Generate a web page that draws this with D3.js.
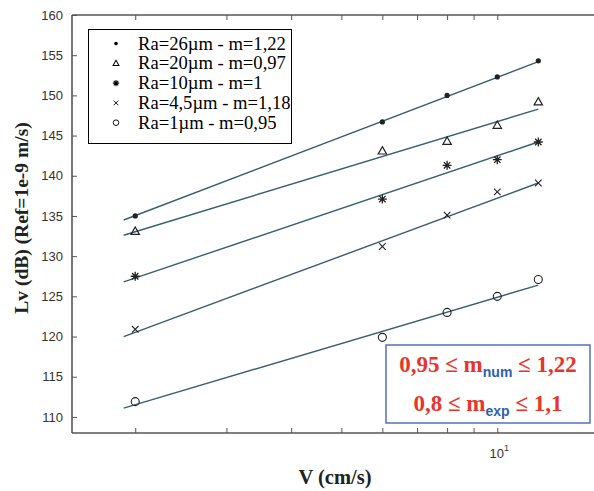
<!DOCTYPE html>
<html><head><meta charset="utf-8">
<script src="https://cdn.jsdelivr.net/npm/d3@7"></script>
<style>body{margin:0;background:#fff}svg{display:block}
.serif{font-family:"Liberation Serif","DejaVu Serif",serif}
.sans{font-family:"Liberation Sans",Arial,sans-serif}
</style>
</head><body>
<svg id="c" width="594" height="491"></svg>
<script>
const velocities = [2, 6, 8, 10, 12];
const seriesNames = ["Ra=26\u00b5m - m=1,22","Ra=20\u00b5m - m=0,97","Ra=10\u00b5m - m=1","Ra=4,5\u00b5m - m=1,18","Ra=1\u00b5m - m=0,95"];
const seriesMarkers = ["dot","triangle","star","cross","circle"];
const lv26 = [135, 146.7, 150, 152.3, 154.3];
const lv20 = [133.1, 143.1, 144.3, 146.3, 149.2];
const lv10 = [127.5, 137.1, 141.3, 142.0, 144.2];
const lv45 = [120.9, 131.2, 135.1, 138.0, 139.1];
const lv1  = [111.9, 119.9, 123.0, 125.0, 127.1];
const fitV = [1.9, 12];
const fit26 = [134.5, 154.2];
const fit20 = [132.6, 148.3];
const fit10 = [126.8, 144.2];
const fit45 = [120.0, 139.1];
const fit1  = [111.1, 126.4];
const yTicks = [110,115,120,125,130,135,140,145,150,155,160];
const xTicks = [2,3,4,5,6,7,8,9,10];

const seriesVals = [lv26, lv20, lv10, lv45, lv1];
const seriesFits = [fit26, fit20, fit10, fit45, fit1];

const svg = d3.select("#c");
const L = 72, T = 15, B = 433;
const pxPerDecade = 518;
const xMin = 1.51, xMax = 16;
const x = d3.scaleLog().domain([xMin, xMax]).range([L, L + pxPerDecade*Math.log10(xMax/xMin)]);
const y = d3.scaleLinear().domain([108, 160]).range([B, T]);
const R = x.range()[1];

const axisCol = "#555";
svg.append("line").attr("x1",L).attr("x2",R).attr("y1",B).attr("y2",B).attr("stroke",axisCol).attr("stroke-width",1.6);
svg.append("line").attr("x1",L).attr("x2",R).attr("y1",T).attr("y2",T).attr("stroke",axisCol).attr("stroke-width",1.6);
svg.append("line").attr("x1",L).attr("x2",L).attr("y1",T).attr("y2",B).attr("stroke",axisCol).attr("stroke-width",1.6);

const yAxis = d3.axisLeft(y).tickValues(yTicks).tickSizeInner(-5).tickSizeOuter(0).tickPadding(9);
const gy = svg.append("g").attr("transform",`translate(${L},0)`).call(yAxis);
gy.select(".domain").remove();
gy.selectAll("line").attr("stroke",axisCol);
gy.selectAll("text").attr("class","sans").attr("font-family",null).attr("font-size",13).attr("fill","#333");

const xb = d3.axisBottom(x).tickValues(xTicks).tickSizeInner(-5).tickSizeOuter(0).tickFormat("");
const gxb = svg.append("g").attr("transform",`translate(0,${B})`).call(xb);
gxb.select(".domain").remove();
gxb.selectAll("line").attr("stroke",axisCol);
const xt = d3.axisTop(x).tickValues(xTicks).tickSizeInner(-5).tickSizeOuter(0).tickFormat("");
const gxt = svg.append("g").attr("transform",`translate(0,${T})`).call(xt);
gxt.select(".domain").remove();
gxt.selectAll("line").attr("stroke",axisCol);

const lab = svg.append("text").attr("class","sans").attr("x", x(10)+2).attr("y", B + 25).attr("text-anchor","middle")
  .attr("font-size",13).attr("fill","#333");
lab.append("tspan").text("10");
lab.append("tspan").attr("dy",-7).attr("font-size",9).text("1");

svg.append("text").attr("class","serif").attr("x", 335).attr("y", 484).attr("text-anchor","middle")
  .attr("font-weight","bold").attr("font-size",20.5).attr("fill","#222").text("V (cm/s)");
svg.append("text").attr("class","serif").attr("transform","translate(28,218) rotate(-90)").attr("text-anchor","middle")
  .attr("font-weight","bold").attr("font-size",19.5).attr("fill","#222").text("Lv (dB) (Ref=1e-9 m/s)");

const lineCol = "#35606c";
const line = d3.line().x(d=>x(d[0])).y(d=>y(d[1]));
seriesFits.forEach(f=>{
  svg.append("path").attr("d", line(fitV.map((v,i)=>[v,f[i]]))).attr("fill","none")
    .attr("stroke",lineCol).attr("stroke-width",1.4);
});

function drawMarker(g, type, cx, cy, col, k){
  k = k || 1;
  if(type==="dot"){ g.append("circle").attr("cx",cx).attr("cy",cy).attr("r",2.6*k).attr("fill",col); }
  else if(type==="triangle"){
    const s=4.2*k;
    g.append("path").attr("d",`M${cx},${cy-s}L${cx+s},${cy+s*0.75}L${cx-s},${cy+s*0.75}Z`).attr("fill","none").attr("stroke",col).attr("stroke-width",1.2*Math.sqrt(k));
  } else if(type==="star"){
    const s=4.5*k, d=3.2*k;
    g.append("path").attr("d",`M${cx-s},${cy}H${cx+s}M${cx},${cy-s}V${cy+s}M${cx-d},${cy-d}L${cx+d},${cy+d}M${cx-d},${cy+d}L${cx+d},${cy-d}`).attr("stroke",col).attr("stroke-width",1.3*Math.sqrt(k));
  } else if(type==="cross"){
    const s=3.3*k;
    g.append("path").attr("d",`M${cx-s},${cy-s}L${cx+s},${cy+s}M${cx-s},${cy+s}L${cx+s},${cy-s}`).attr("stroke",col).attr("stroke-width",1.1*Math.sqrt(k));
  } else if(type==="circle"){
    g.append("circle").attr("cx",cx).attr("cy",cy).attr("r",4*k).attr("fill","none").attr("stroke",col).attr("stroke-width",1.1*Math.sqrt(k));
  }
}
const mg = svg.append("g");
seriesVals.forEach((vals,si)=>{
  vals.forEach((v,i)=> drawMarker(mg, seriesMarkers[si], x(velocities[i]), y(v), "#222", 1));
});

const lg = svg.append("g");
lg.append("rect").attr("x",88.5).attr("y",29.5).attr("width",203).attr("height",114).attr("fill","#fff").attr("stroke","#000").attr("stroke-width",1);
seriesNames.forEach((n,i)=>{
  const cy = 43.5 + i*19.8;
  drawMarker(lg, seriesMarkers[i], 116, cy, "#000", 0.7);
  lg.append("text").attr("class","serif").attr("x",138).attr("y",cy+6)
    .attr("font-size",18.6).attr("fill","#000").text(n);
});

const ag = svg.append("g");
ag.append("rect").attr("x",386).attr("y",345).attr("width",204).attr("height",78).attr("fill","#fff").attr("stroke","#3a5aa8").attr("stroke-width",1.3);
const red = "#e8352b", blue = "#2e5fb0";
function annot(yb, a, sub, b){
  const t = ag.append("text").attr("class","serif").attr("x",488).attr("y",yb).attr("text-anchor","middle")
    .attr("font-weight","bold").attr("font-size",23).attr("fill",red);
  t.append("tspan").text(a);
  t.append("tspan").attr("class","sans").attr("dy",5).attr("font-size",14).attr("fill",blue).text(sub);
  t.append("tspan").attr("dy",-5).text(b);
}
annot(372, "0,95 \u2264 m", "num", " \u2264 1,22");
annot(411, "0,8 \u2264 m", "exp", " \u2264 1,1");
</script>
</body></html>
